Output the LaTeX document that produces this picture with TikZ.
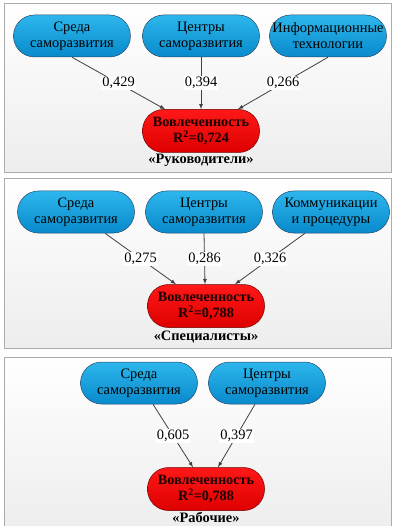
\documentclass[tikz,border=0pt]{standalone}
\usepackage{fontspec}
\setmainfont{Liberation Serif}
\usepackage{tikz}
\usetikzlibrary{arrows,backgrounds,calc}
\definecolor{blobtop}{RGB}{45,182,236}
\definecolor{blobbot}{RGB}{8,138,204}
\definecolor{blobline}{RGB}{40,72,104}
\definecolor{redtop}{RGB}{255,24,24}
\definecolor{redbot}{RGB}{222,0,0}
\definecolor{redline}{RGB}{110,0,0}
\definecolor{arrowgray}{RGB}{64,64,64}
\tikzset{
  panel/.style={draw=gray!65,line width=0.8pt,top color=white,bottom color=gray!14},
  blob/.style={draw=blobline,line width=0.5pt,top color=blobtop,bottom color=blobbot,
    rounded corners=21pt,minimum width=117pt,minimum height=42pt,align=center,
    inner sep=0pt,font=\fontsize{14.4}{16}\selectfont},
  target/.style={draw=redline,line width=0.5pt,top color=redtop,bottom color=redbot,
    rounded corners=21pt,minimum width=117pt,minimum height=43pt,align=center,
    inner sep=0pt,text=black!90!red,font=\fontsize{14.2}{16}\selectfont\bfseries},
  caption/.style={font=\fontsize{14.4}{16}\selectfont\bfseries},
  weight/.style={fill=white,inner sep=1pt,font=\fontsize{14.4}{16}\selectfont},
  link/.style={draw=arrowgray,line width=0.8pt,-latex}
}
\begin{document}
\begin{tikzpicture}[x=1pt,y=-1pt]
\useasboundingbox (0,0) rectangle (392,526);
% panels
\shade[panel] (4,3) rectangle (391,172);
\shade[panel] (4,178) rectangle (391,348);
\shade[panel] (4,357) rectangle (391,530);

% Руководители
\node[blob] (a1) at (72,36) {Среда\\саморазвития};
\node[blob] (a2) at (201,36) {Центры\\саморазвития};
\node[blob] (a3) at (328,36) {Информационные\\технологии};
\node[target] (ra) at (201,131) {Вовлеченность\\R\textsuperscript{2}=0,724};
\node[caption] (ca) at (201,160) {«Руководители»};
\draw[link] (a1.south) -- node[weight] {0,429} ([xshift=-36pt]ra.north);
\draw[link] (a2.south) -- node[weight] {0,394} (ra.north);
\draw[link] (a3.south) -- node[weight] {0,266} ([xshift=37pt]ra.north);

% Специалисты
\node[blob] (b1) at (76,212) {Среда\\саморазвития};
\node[blob] (b2) at (204,212) {Центры\\саморазвития};
\node[blob] (b3) at (331,212) {Коммуникации\\и процедуры};
\node[target] (rb) at (206,306) {Вовлеченность\\R\textsuperscript{2}=0,788};
\node[caption] (cb) at (206,337) {«Специалисты»};
\draw[link] ([xshift=29pt]b1.south) -- node[weight] {0,275} ([xshift=-30pt]rb.north);
\draw[link] (b2.south) -- node[weight] {0,286} ([xshift=-1pt]rb.north);
\draw[link] ([xshift=-26pt]b3.south) -- node[weight] {0,326} ([xshift=29pt]rb.north);

% Рабочие
\node[blob] (c1) at (139,383) {Среда\\саморазвития};
\node[blob] (c2) at (267,383) {Центры\\саморазвития};
\node[target] (rc) at (206,489) {Вовлеченность\\R\textsuperscript{2}=0,788};
\node[caption] (cc) at (206,517) {«Рабочие»};
\draw[link] ([xshift=14pt]c1.south) -- node[weight] {0,605} ([xshift=-13pt]rc.north);
\draw[link] ([xshift=-12pt]c2.south) -- node[weight] {0,397} ([xshift=12pt]rc.north);
\end{tikzpicture}
\end{document}
